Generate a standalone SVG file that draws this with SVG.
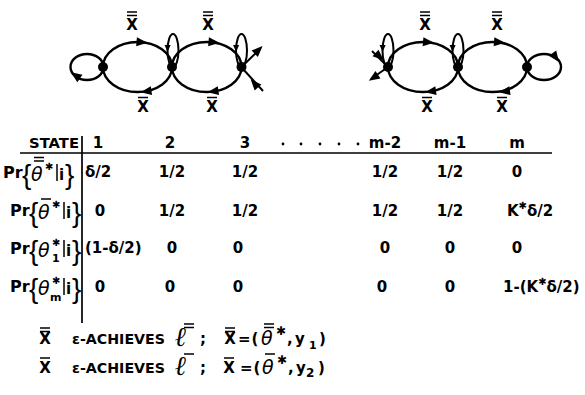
<svg xmlns="http://www.w3.org/2000/svg" width="585" height="395" viewBox="0 0 585 395">
<style>
 .e{fill:none;stroke:#000;stroke-width:2.4}
 .l{stroke:#000;stroke-width:2;fill:none}
 .b{stroke:#000;stroke-width:1.5}
 .rule{stroke:#000;stroke-width:1.7}
 .n{fill:#000}
 text{font-family:"DejaVu Sans","Liberation Sans",sans-serif;fill:#000;font-weight:bold}
 .lab{font-size:15px;text-anchor:middle}
 .v{font-size:15px}
 .pr{font-size:16px}
 .c{text-anchor:middle}
 .th{font-style:italic;font-size:19px;font-weight:normal}
 .br{font-family:"Liberation Sans",sans-serif;font-size:28px;font-weight:normal}
 .st{font-size:10px}
 .sub{font-size:11px}
 .ell{font-family:"DejaVu Serif","Liberation Serif",serif;font-style:italic;font-size:27px;font-weight:bold}
</style>
<defs>
 <path id="ah" d="M5,0 L-6,-4.5 L-6,4.5 Z"/>
 <path id="ahs" d="M3,0 L-4,-3 L-4,3 Z"/>
</defs>

<g id="connectors">
 <path class="e" d="M103,67 A34.5,25 0 0 1 172,67"/>
 <path class="e" d="M172,67 A34.5,25 0 0 1 103,67"/>
 <path class="e" d="M172,67 A34.75,25 0 0 1 241.5,67"/>
 <path class="e" d="M241.5,67 A34.75,25 0 0 1 172,67"/>
 <ellipse class="e" cx="87" cy="67" rx="16.5" ry="13"/>
 <ellipse class="l" cx="173" cy="50.5" rx="5.5" ry="16.5"/>
 <ellipse class="l" cx="241.5" cy="50.5" rx="5.5" ry="16.5"/>
 <line class="l" x1="241.5" y1="67" x2="260" y2="49"/>
 <line class="l" x1="263" y1="91" x2="243" y2="69"/>
 <use href="#ah" transform="translate(142.5,42.3) rotate(5)"/>
 <use href="#ah" transform="translate(145.5,91.5) rotate(172)"/>
 <use href="#ah" transform="translate(214.5,42.3) rotate(5)"/>
 <use href="#ah" transform="translate(212.5,91.5) rotate(172)"/>
 <use href="#ah" transform="translate(75,75) rotate(215)"/>
 <use href="#ahs" transform="translate(167.6,49) rotate(90)"/>
 <use href="#ahs" transform="translate(236.1,49) rotate(90)"/>
 <use href="#ah" transform="translate(259,49.5) rotate(-44)"/>
 <use href="#ah" transform="translate(254,83) rotate(228)"/>

 <path class="e" d="M388,67 A35,25 0 0 1 458,67"/>
 <path class="e" d="M458,67 A35,25 0 0 1 388,67"/>
 <path class="e" d="M458,67 A34.5,25 0 0 1 527,67"/>
 <path class="e" d="M527,67 A34.5,25 0 0 1 458,67"/>
 <ellipse class="e" cx="544" cy="67" rx="17" ry="13"/>
 <ellipse class="l" cx="388" cy="50.5" rx="5.5" ry="16.5"/>
 <ellipse class="l" cx="458" cy="50.5" rx="5.5" ry="16.5"/>
 <line class="l" x1="372" y1="51" x2="387" y2="66"/>
 <line class="l" x1="388" y1="67" x2="371" y2="79"/>
 <use href="#ah" transform="translate(429,42.3) rotate(5)"/>
 <use href="#ah" transform="translate(430,91.5) rotate(172)"/>
 <use href="#ah" transform="translate(500,42.3) rotate(5)"/>
 <use href="#ah" transform="translate(504,91.5) rotate(172)"/>
 <use href="#ah" transform="translate(556,58) rotate(55)"/>
 <use href="#ahs" transform="translate(382.6,49) rotate(90)"/>
 <use href="#ahs" transform="translate(452.6,49) rotate(90)"/>
 <use href="#ah" transform="translate(380,57) rotate(42)"/>
 <use href="#ah" transform="translate(373,78) rotate(146)"/>
</g>

<g id="node-1"><circle class="n" cx="103" cy="67" r="5"/></g>
<g id="node-2"><circle class="n" cx="172" cy="67" r="5"/></g>
<g id="node-3"><circle class="n" cx="241.5" cy="67" r="5"/></g>
<g id="node-m-2"><circle class="n" cx="388" cy="67" r="5"/></g>
<g id="node-m-1"><circle class="n" cx="458" cy="67" r="5"/></g>
<g id="node-m"><circle class="n" cx="527" cy="67" r="5"/></g>

<g id="edge-labels">
 <text class="lab" x="132" y="30">X</text>
 <line class="b" x1="127" y1="12" x2="137" y2="12"/><line class="b" x1="127" y1="15.5" x2="137" y2="15.5"/>
 <text class="lab" x="208" y="30">X</text>
 <line class="b" x1="203" y1="12" x2="213" y2="12"/><line class="b" x1="203" y1="15.5" x2="213" y2="15.5"/>
 <text class="lab" x="425" y="30">X</text>
 <line class="b" x1="420" y1="12" x2="430" y2="12"/><line class="b" x1="420" y1="15.5" x2="430" y2="15.5"/>
 <text class="lab" x="497" y="30">X</text>
 <line class="b" x1="492" y1="12" x2="502" y2="12"/><line class="b" x1="492" y1="15.5" x2="502" y2="15.5"/>
 <text class="lab" x="143" y="112">X</text>
 <line class="b" x1="138" y1="97.5" x2="148" y2="97.5"/>
 <text class="lab" x="212" y="112">X</text>
 <line class="b" x1="207" y1="97.5" x2="217" y2="97.5"/>
 <text class="lab" x="427" y="112">X</text>
 <line class="b" x1="422" y1="97.5" x2="432" y2="97.5"/>
 <text class="lab" x="502" y="112">X</text>
 <line class="b" x1="497" y1="97.5" x2="507" y2="97.5"/>
</g>

<g id="table">
 <line class="rule" x1="82" y1="136" x2="82" y2="323"/>
 <line class="rule" x1="20" y1="153" x2="552" y2="153"/>
 <text x="29" y="148" style="font-size:14px" textLength="50" lengthAdjust="spacingAndGlyphs">STATE</text>
 <g class="v c">
  <text x="98" y="148">1</text>
  <text x="170" y="148">2</text>
  <text x="245" y="148">3</text>
  <text x="385" y="148">m-2</text>
  <text x="450" y="148">m-1</text>
  <text x="517" y="148">m</text>
 </g>
 <g class="n">
  <circle cx="283" cy="144" r="1.4"/><circle cx="301" cy="144" r="1.4"/><circle cx="320" cy="144" r="1.4"/><circle cx="339" cy="144" r="1.4"/><circle cx="358" cy="144" r="1.4"/>
 </g>

 <g id="row1">
  <text class="pr" x="3" y="178">Pr</text>
  <text class="br" x="22" y="184">{</text>
  <text class="th" x="31" y="181">θ</text>
  <line class="b" x1="34" y1="157.5" x2="44" y2="157.5"/><line class="b" x1="34" y1="161" x2="44" y2="161"/>
  <text class="st" x="45" y="170">✱</text>
  <line class="b" x1="57" y1="164" x2="57" y2="181"/>
  <text class="v" x="59" y="180">i</text>
  <text class="br" x="65" y="184">}</text>
  <text class="v" x="85" y="177">δ/2</text>
  <text class="v c" x="172" y="177">1/2</text>
  <text class="v c" x="245" y="177">1/2</text>
  <text class="v c" x="385" y="177">1/2</text>
  <text class="v c" x="450" y="177">1/2</text>
  <text class="v c" x="517" y="177">0</text>
 </g>
 <g id="row2">
  <text class="pr" x="10" y="216">Pr</text>
  <text class="br" x="29" y="222">{</text>
  <text class="th" x="38" y="219">θ</text>
  <line class="b" x1="41" y1="199" x2="51" y2="199"/>
  <text class="st" x="52" y="208">✱</text>
  <line class="b" x1="64" y1="202" x2="64" y2="219"/>
  <text class="v" x="66" y="218">i</text>
  <text class="br" x="72" y="222">}</text>
  <text class="v c" x="100" y="216">0</text>
  <text class="v c" x="172" y="216">1/2</text>
  <text class="v c" x="245" y="216">1/2</text>
  <text class="v c" x="385" y="216">1/2</text>
  <text class="v c" x="450" y="216">1/2</text>
  <text class="v c" x="530" y="216">K<tspan class="st" dy="-7">✱</tspan><tspan dy="7">δ/2</tspan></text>
 </g>
 <g id="row3">
  <text class="pr" x="10" y="254">Pr</text>
  <text class="br" x="29" y="260">{</text>
  <text class="th" x="38" y="257">θ</text>
  <text class="st" x="52" y="246">✱</text>
  <text class="sub" x="52" y="262">1</text>
  <line class="b" x1="64" y1="240" x2="64" y2="257"/>
  <text class="v" x="66" y="256">i</text>
  <text class="br" x="72" y="260">}</text>
  <text class="v" x="85" y="253">(1-δ/2)</text>
  <text class="v c" x="172" y="253">0</text>
  <text class="v c" x="238" y="253">0</text>
  <text class="v c" x="385" y="253">0</text>
  <text class="v c" x="450" y="253">0</text>
  <text class="v c" x="517" y="253">0</text>
 </g>
 <g id="row4">
  <text class="pr" x="10" y="292">Pr</text>
  <text class="br" x="29" y="298">{</text>
  <text class="th" x="38" y="295">θ</text>
  <text class="st" x="52" y="284">✱</text>
  <text class="sub" x="50" y="301">m</text>
  <line class="b" x1="64" y1="278" x2="64" y2="295"/>
  <text class="v" x="66" y="294">i</text>
  <text class="br" x="72" y="298">}</text>
  <text class="v c" x="100" y="292">0</text>
  <text class="v c" x="170" y="292">0</text>
  <text class="v c" x="238" y="292">0</text>
  <text class="v c" x="382" y="292">0</text>
  <text class="v c" x="450" y="292">0</text>
  <text class="v" x="503" y="292">1-(K<tspan class="st" dy="-7">✱</tspan><tspan dy="7">δ/2)</tspan></text>
 </g>
</g>

<g id="legend">
 <text class="lab" x="45" y="344">X</text>
 <line class="b" x1="40" y1="328" x2="50" y2="328"/><line class="b" x1="40" y1="331.5" x2="50" y2="331.5"/>
 <text x="72" y="344" style="font-size:14px" textLength="93" lengthAdjust="spacingAndGlyphs">ε-ACHIEVES</text>
 <text class="ell" x="175" y="346">ℓ</text>
 <line class="b" x1="184" y1="324" x2="194" y2="324"/><line class="b" x1="184" y1="327.5" x2="194" y2="327.5"/>
 <text class="v" x="200" y="344">;</text>
 <text class="lab" x="230" y="344">X</text>
 <line class="b" x1="225" y1="328" x2="235" y2="328"/><line class="b" x1="225" y1="331.5" x2="235" y2="331.5"/>
 <text class="v" x="238" y="344">=</text>
 <text class="v" x="251.5" y="344">(</text>
 <text class="th" x="261" y="345">θ</text>
 <line class="b" x1="264" y1="324" x2="274" y2="324"/><line class="b" x1="264" y1="327.5" x2="274" y2="327.5"/>
 <text class="st" x="276" y="335" style="font-size:12px">✱</text>
 <text class="v" x="287" y="344">,</text>
 <text class="v" x="295" y="344">y</text>
 <text class="sub" x="309" y="349">1</text>
 <text class="v" x="319" y="344">)</text>

 <text class="lab" x="45" y="373">X</text>
 <line class="b" x1="40" y1="358" x2="50" y2="358"/>
 <text x="72" y="373" style="font-size:14px" textLength="93" lengthAdjust="spacingAndGlyphs">ε-ACHIEVES</text>
 <text class="ell" x="175" y="375">ℓ</text>
 <line class="b" x1="184" y1="354" x2="194" y2="354"/>
 <text class="v" x="200" y="373">;</text>
 <text class="lab" x="229" y="373">X</text>
 <line class="b" x1="224" y1="358" x2="234" y2="358"/>
 <text class="v" x="240" y="373">=</text>
 <text class="v" x="253.5" y="373">(</text>
 <text class="th" x="262" y="374">θ</text>
 <line class="b" x1="265" y1="354" x2="275" y2="354"/>
 <text class="st" x="277" y="364" style="font-size:12px">✱</text>
 <text class="v" x="288" y="373">,</text>
 <text class="v" x="296" y="373">y</text>
 <text class="v" x="306" y="377" style="font-size:12px">2</text>
 <text class="v" x="318" y="373">)</text>
</g>
</svg>
